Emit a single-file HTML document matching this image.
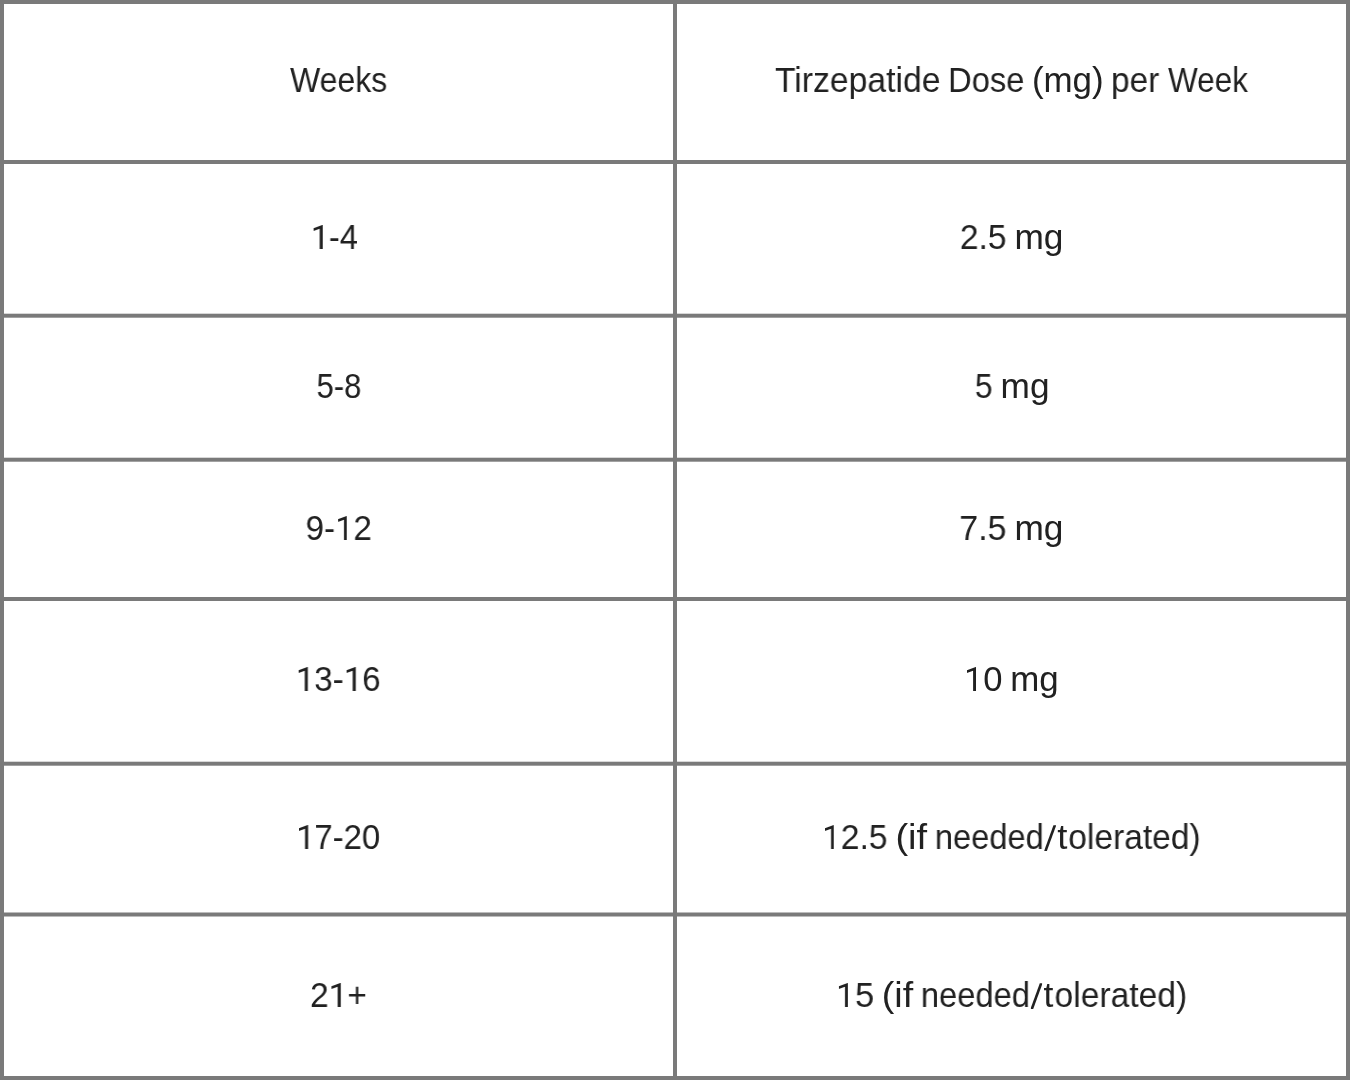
<!DOCTYPE html>
<html lang="en">
<head>
<meta charset="utf-8">
<title>Tirzepatide Dose Schedule</title>
<style>
  html, body { margin: 0; padding: 0; }
  body {
    width: 1350px; height: 1080px; overflow: hidden;
    background: #7a7a7a;
    font-family: "Liberation Sans", sans-serif;
    color: #212121;
  }
  #grid { position: relative; width: 1350px; height: 1080px; background: #7a7a7a; overflow: hidden; }
  .c { position: absolute; background: #ffffff; width: 669px; box-sizing: border-box; }
  .l { left: 4px; }
  .r { left: 677px; }
  .t {
    position: absolute; left: 0; width: 100%;
    white-space: nowrap;
    font-size: 34.6px; line-height: 40px; height: 40px;
  }
  .t span { position: absolute; top: 0; display: block; transform-origin: 0 50%; will-change: transform; transform: translateX(var(--tx)) scaleX(var(--sx)); }
  /* Roboto-style numeral one: bare stem with a flag, drawn over the (transparent) text glyph */
  .t i { font-style: normal; color: transparent; position: relative; display: inline-block; }
  .t i::before {
    content: ""; position: absolute; left: 2.9px; bottom: 8px;
    width: calc(9.3px / var(--sx)); height: 24px; background: #212121;
    clip-path: polygon(100% 100%, 66.7% 100%, 66.7% 15.8%, 0 25.2%, 0 13.75%, 94.6% 0, 100% 0);
  }
  /* thin, strongly slanted solidus drawn over the (transparent) text glyph */
  .t b { font-weight: normal; color: transparent; position: relative; display: inline-block; }
  .t b::before {
    content: ""; position: absolute; left: 0; bottom: 6px;
    width: 12.2px; height: 25.8px; background: #212121;
    clip-path: polygon(0 100%, 2.8px 100%, 100% 0, calc(100% - 2.8px) 0);
  }
</style>
</head>
<body>
<div id="grid">
  <div class="c l" style="top:4px;height:156px"><div class="t" style="top:56px"><span class="w0" style="left:286px;--tx:0.02px;--sx:0.9253">Weeks</span></div></div>
  <div class="c r" style="top:4px;height:156px"><div class="t" style="top:56px"><span class="w0" style="left:98px;--tx:-0.04px;--sx:0.9754">Tirzepatide</span> <span class="w1" style="left:271px;--tx:0.05px;--sx:0.9454">Dose</span> <span class="w2" style="left:355px;--tx:-0.12px;--sx:1.0099">(mg)</span> <span class="w3" style="left:434px;--tx:0.01px;--sx:0.9653">per</span> <span class="w4" style="left:491px;--tx:0.05px;--sx:0.9099">Week</span></div></div>
  <div class="c l" style="top:164px;height:150px;border-bottom:1px solid #d7d7d7"><div class="t" style="top:53px"><span class="w0" style="left:307px;--tx:-0.27px;--sx:0.9439"><i>1</i>-4</span></div></div>
  <div class="c r" style="top:164px;height:150px;border-bottom:1px solid #d7d7d7"><div class="t" style="top:53px"><span class="w0" style="left:283px;--tx:-0.15px;--sx:0.9724">2.5</span> <span class="w1" style="left:337px;--tx:0.4px;--sx:1.0195">mg</span></div></div>
  <div class="c l" style="top:317px;height:141px;border-top:1px solid #a2a2a2;border-bottom:1px solid #d7d7d7"><div class="t" style="top:48px"><span class="w0" style="left:313px;--tx:-0.45px;--sx:0.8963">5-8</span></div></div>
  <div class="c r" style="top:317px;height:141px;border-top:1px solid #a2a2a2;border-bottom:1px solid #d7d7d7"><div class="t" style="top:48px"><span class="w0" style="left:298px;--tx:-0.14px;--sx:0.9214">5</span> <span class="w1" style="left:324px;--tx:-0.38px;--sx:1.019">mg</span></div></div>
  <div class="c l" style="top:461px;height:136px;border-top:1px solid #a2a2a2"><div class="t" style="top:46px"><span class="w0" style="left:302px;--tx:-0.42px;--sx:0.9569">9-<i>1</i>2</span></div></div>
  <div class="c r" style="top:461px;height:136px;border-top:1px solid #a2a2a2"><div class="t" style="top:46px"><span class="w0" style="left:282px;--tx:0.27px;--sx:0.9835">7.5</span> <span class="w1" style="left:337px;--tx:0.4px;--sx:1.0195">mg</span></div></div>
  <div class="c l" style="top:601px;height:161px;border-bottom:1px solid #d7d7d7"><div class="t" style="top:58px"><span class="w0" style="left:292px;--tx:-0.25px;--sx:0.959"><i>1</i>3-<i>1</i>6</span></div></div>
  <div class="c r" style="top:601px;height:161px;border-bottom:1px solid #d7d7d7"><div class="t" style="top:58px"><span class="w0" style="left:287px;--tx:-0px;--sx:1.0014"><i>1</i>0</span> <span class="w1" style="left:333px;--tx:0.25px;--sx:1.0076">mg</span></div></div>
  <div class="c l" style="top:765px;height:148px;border-top:1px solid #a2a2a2;border-bottom:1px solid #bcbcbc"><div class="t" style="top:51px"><span class="w0" style="left:292px;--tx:0.09px;--sx:0.95"><i>1</i>7-20</span></div></div>
  <div class="c r" style="top:765px;height:148px;border-top:1px solid #a2a2a2;border-bottom:1px solid #bcbcbc"><div class="t" style="top:51px"><span class="w0" style="left:145px;--tx:0.03px;--sx:0.9738"><i>1</i>2.5</span> <span class="w1" style="left:218px;--tx:0.4px;--sx:1.1002">(if</span> <span class="w2" style="left:258px;--tx:-0.16px;--sx:0.9431">needed</span><span class="w3" style="left:367px;--tx:0.07px;--sx:1"><b>/</b></span><span class="w4" style="left:380px;--tx:0.14px;--sx:1.0574">t</span><span class="w5" style="left:391px;--tx:0.23px;--sx:0.9698">olerated)</span></div></div>
  <div class="c l" style="top:916px;height:160px;border-top:1px solid #bcbcbc"><div class="t" style="top:58px"><span class="w0" style="left:306px;--tx:0.05px;--sx:0.9681">2<i>1</i>+</span></div></div>
  <div class="c r" style="top:916px;height:160px;border-top:1px solid #bcbcbc"><div class="t" style="top:58px"><span class="w0" style="left:159px;--tx:-0.11px;--sx:0.9946"><i>1</i>5</span> <span class="w1" style="left:205px;--tx:-0.19px;--sx:1.0904">(if</span> <span class="w2" style="left:244px;--tx:-0.16px;--sx:0.9447">needed</span><span class="w3" style="left:353px;--tx:0.41px;--sx:1"><b>/</b></span><span class="w4" style="left:367px;--tx:-0.48px;--sx:1.0297">t</span><span class="w5" style="left:378px;--tx:-0.5px;--sx:0.9719">olerated)</span></div></div>
</div>
</body>
</html>
